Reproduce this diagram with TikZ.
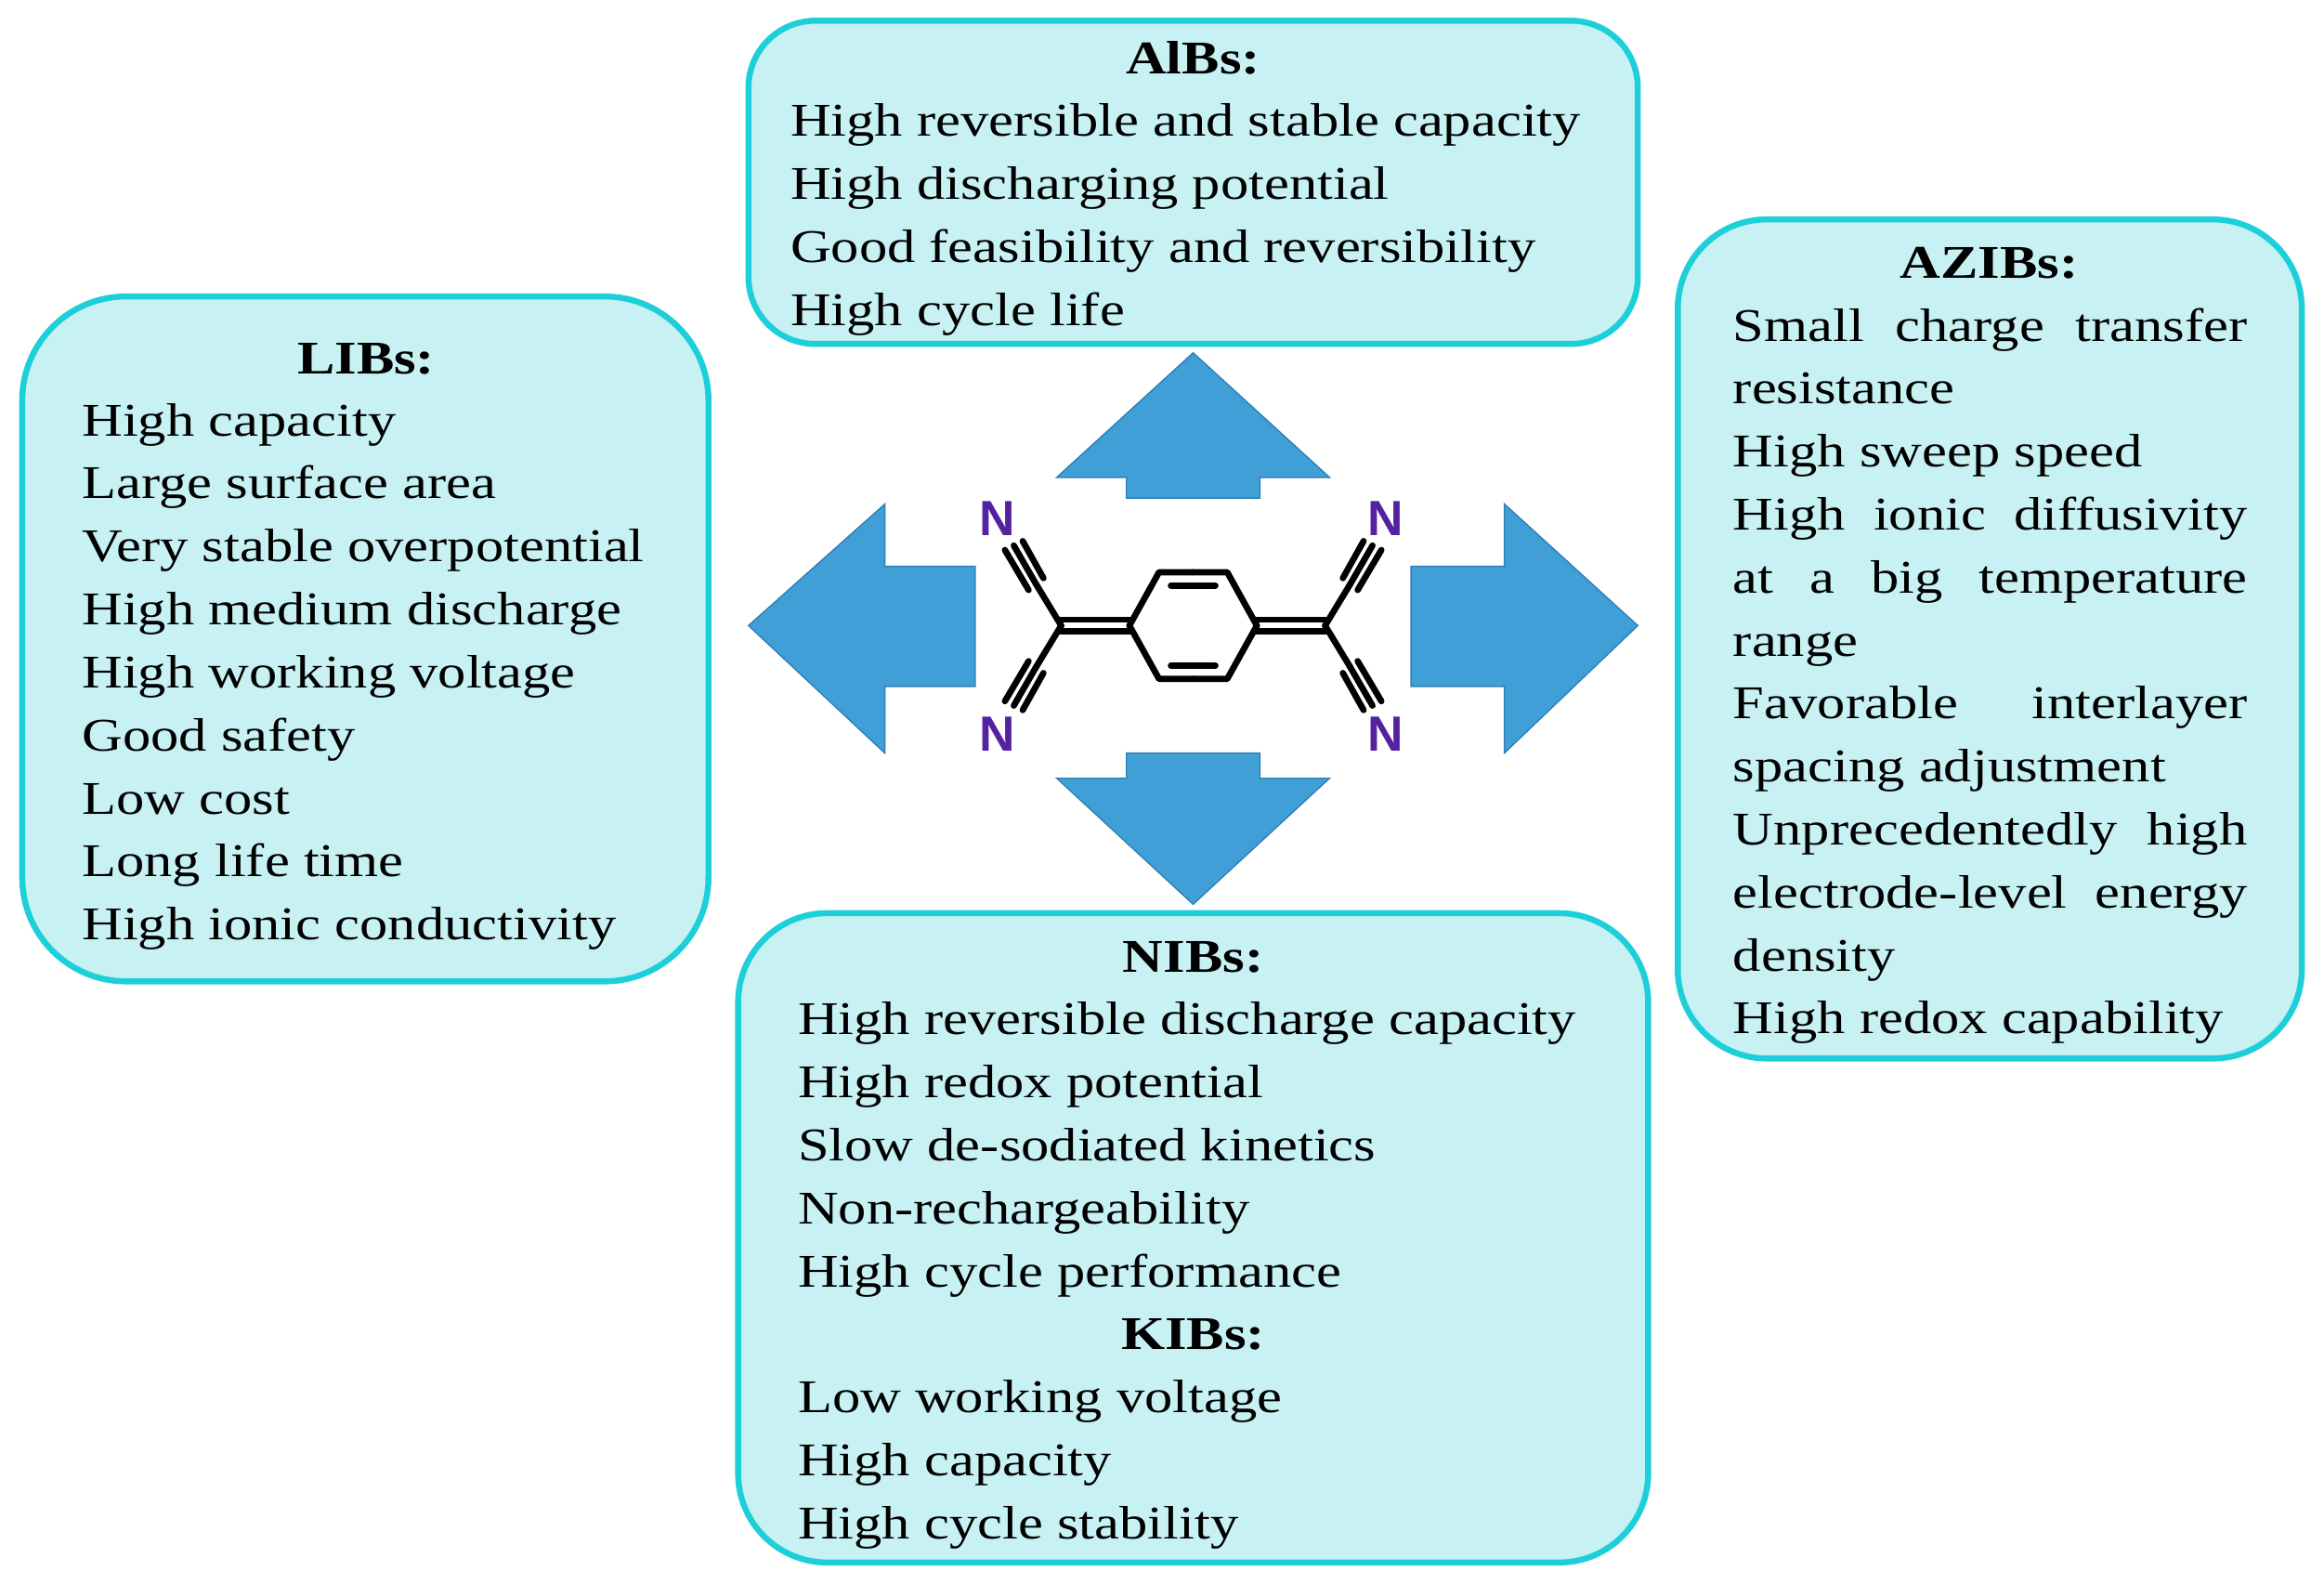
\documentclass[tikz,border=0pt]{standalone}
\usepackage{fontspec}
\setmainfont{Liberation Serif}[FakeStretch=1.2]
\newfontfamily\nfont{Liberation Sans}
\definecolor{bfill}{HTML}{C8F1F3}
\definecolor{bdraw}{HTML}{1DCFD9}
\definecolor{arr}{HTML}{409FD6}
\definecolor{arrd}{HTML}{2F80B5}
\definecolor{ncol}{HTML}{5422A0}
\newcommand{\jl}[1]{\makebox[6.94cm][s]{#1}}
\begin{document}
\begin{tikzpicture}[x=0.02cm,y=-0.02cm,
  box/.style={draw=bdraw,fill=bfill,line width=2.3pt},
  txt/.style={anchor=base west,inner sep=0pt,font=\fontsize{18}{24}\selectfont},
  ttl/.style={anchor=base,inner sep=0pt,font=\fontsize{18}{24}\selectfont\bfseries},
  arrow/.style={fill=arr,draw=arrd,line width=0.5pt},
  bond/.style={line width=2.4pt,line cap=round},
  nlab/.style={text=ncol,font=\fontsize{19}{20}\selectfont\nfont\bfseries,inner sep=0pt}]
\useasboundingbox (0,0) rectangle (1568,1068);
% boxes
\draw[box,rounded corners=0.9cm] (505,14) rectangle (1105,232);
\draw[box,rounded corners=1.4cm] (15,200) rectangle (478,662);
\draw[box,rounded corners=1.2cm] (1132,148) rectangle (1553,714);
\draw[box,rounded corners=1.2cm] (498,616) rectangle (1112,1054);
% AlBs
\node[ttl] (alt) at (805,50) {AlBs:};
\foreach \t [count=\i from 0] in {High reversible and stable capacity,High discharging potential,Good feasibility and reversibility,High cycle life}
  \node[txt] (al\i) at (533,92+42.5*\i) {\t};
% LIBs
\node[ttl] (lit) at (247,252) {LIBs:};
\foreach \t [count=\i from 0] in {High capacity,Large surface area,Very stable overpotential,High medium discharge,High working voltage,Good safety,Low cost,Long life time,High ionic conductivity}
  \node[txt] (li\i) at (55,294+42.5*\i) {\t};
% AZIBs
\node[ttl] (azt) at (1342,188) {AZIBs:};
\foreach \t [count=\i from 0] in {\jl{Small charge transfer},resistance,High sweep speed,\jl{High ionic diffusivity},\jl{at a big temperature},range,\jl{Favorable interlayer},spacing adjustment,\jl{Unprecedentedly high},\jl{electrode-level energy},density,High redox capability}
  \node[txt] (az\i) at (1169,230+42.5*\i) {\t};
% NIBs
\node[ttl] (nit) at (805,656) {NIBs:};
\foreach \t [count=\i from 0] in {High reversible discharge capacity,High redox potential,Slow de-sodiated kinetics,Non-rechargeability,High cycle performance}
  \node[txt] (ni\i) at (538,698+42.5*\i) {\t};
\node[ttl] (kit) at (805,910) {KIBs:};
\foreach \t [count=\i from 0] in {Low working voltage,High capacity,High cycle stability}
  \node[txt] (ki\i) at (538,953+42.5*\i) {\t};
% arrows
\draw[arrow] (805,238) -- (897,322) -- (850,322) -- (850,336) -- (760,336) -- (760,322) -- (713,322) -- cycle;
\draw[arrow] (805,610) -- (897,525) -- (850,525) -- (850,508) -- (760,508) -- (760,525) -- (713,525) -- cycle;
\draw[arrow] (505,422) -- (597,340) -- (597,382) -- (658,382) -- (658,463) -- (597,463) -- (597,508) -- cycle;
\draw[arrow] (1105,422) -- (1015,340) -- (1015,382) -- (952,382) -- (952,463) -- (1015,463) -- (1015,508) -- cycle;
% molecule
\foreach \sx/\sy in {1/1,-1/1,1/-1,-1/-1}{
\begin{scope}[shift={(805,422)},xscale=\sx,yscale=\sy]
  \draw[bond] (-89,-4) -- (-43,-4);
  \draw[bond] (-89,4) -- (-43,4);
  \draw[bond,line join=round] (-43,0) -- (-23,-36) -- (0,-36);
  \draw[bond] (-15,-27) -- (0,-27);
  \draw[bond] (-89,0) -- (-106,-28);
  \draw[bond] (-106,-28) -- (-121,-54);
  \draw[bond] (-101,-32) -- (-115,-57);
  \draw[bond] (-111,-24) -- (-127,-51);
\end{scope}}
\node[nlab] (n1) at (673,350) {N};
\node[nlab] (n2) at (673,495) {N};
\node[nlab] (n3) at (935,350) {N};
\node[nlab] (n4) at (935,495) {N};
\end{tikzpicture}
\end{document}
